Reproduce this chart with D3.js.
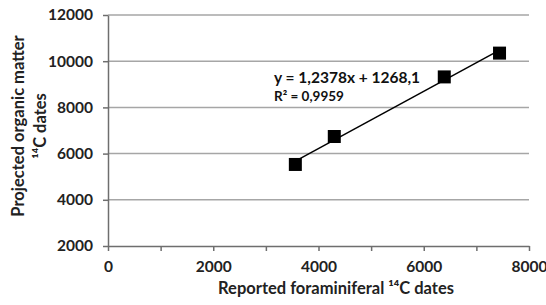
<!DOCTYPE html>
<html>
<head>
<meta charset="utf-8">
<script src="https://cdn.jsdelivr.net/npm/d3@7"></script>
<style>
  body { margin: 0; background: #fff; }
  svg { display: block; font-family: Lato, "Open Sans", sans-serif; }
</style>
</head>
<body>
<svg id="chart" width="546" height="305"></svg>
<script>
// values
const foram_dates = [3560, 4300, 6390, 7440]
const organic_dates = [5530, 6740, 9320, 10350]
const x_ticks = [0, 2000, 4000, 6000, 8000]
const x_minor = [1000, 3000, 5000, 7000]
const y_ticks = [2000, 4000, 6000, 8000, 10000, 12000]
const slope = 1.2378
const intercept = 1268.1

const points = foram_dates.map((d, i) => ({ x: d, y: organic_dates[i] }))

const svg = d3.select('#chart')
const margin = ({ top: 15, right: 17, bottom: 59, left: 108 })
const width = 546, height = 305
const font = 'Lato, "Open Sans", sans-serif'

const x = d3.scaleLinear()
    .domain([0, 8000])
    .range([margin.left, width - margin.right])
const y = d3.scaleLinear()
    .domain([2000, 12000])
    .range([height - margin.bottom, margin.top])

// gridlines
svg.append('g')
    .selectAll('line')
    .data(y_ticks.filter(d => d > 2000))
    .join('line')
    .attr('x1', x(0))
    .attr('x2', x(8000))
    .attr('y1', d => y(d))
    .attr('y2', d => y(d))
    .attr('stroke', '#a6a6a6')
    .attr('stroke-width', 1.5)

const xAxis = g => g
    .attr('transform', `translate(0,${y(2000)})`)
    .call(d3.axisBottom(x).tickValues(x_ticks.concat(x_minor)).tickSize(5).tickSizeOuter(0)
        .tickPadding(10)
        .tickFormat(d => x_minor.includes(d) ? '' : d))
const yAxis = g => g
    .attr('transform', `translate(${x(0)},0)`)
    .call(d3.axisLeft(y).tickValues(y_ticks).tickSize(5).tickSizeOuter(0)
        .tickPadding(10).tickFormat(d => d))

const gx = svg.append('g').call(xAxis)
const gy = svg.append('g').call(yAxis)

svg.selectAll('.domain, .tick line')
    .attr('stroke', '#6e6e6e')
    .attr('stroke-width', 1.5)
svg.selectAll('.tick text')
    .attr('font-size', 15.5)
    .attr('font-weight', 700)
    .attr('fill', '#222')
    .attr('font-family', font)

// trend line
const xs = d3.extent(foram_dates)
const line = d3.line()
    .x(d => x(d))
    .y(d => y(slope * d + intercept))
svg.append('path')
    .datum(xs)
    .attr('fill', 'none')
    .attr('stroke', '#000')
    .attr('stroke-width', 1.5)
    .attr('d', line)

// markers
const s = 13
svg.append('g')
    .selectAll('rect')
    .data(points)
    .join('rect')
    .attr('x', d => x(d.x) - s / 2)
    .attr('y', d => y(d.y) - s / 2)
    .attr('width', s)
    .attr('height', s)
    .attr('fill', '#000')

// equation
svg.append('text')
    .attr('x', 274)
    .attr('y', 83)
    .attr('font-size', 15.5)
    .attr('font-weight', 700)
    .attr('fill', '#111')
    .text('y = 1,2378x + 1268,1')
svg.append('text')
    .attr('x', 274)
    .attr('y', 101)
    .attr('font-size', 13.5)
    .attr('font-weight', 700)
    .attr('fill', '#111')
    .text('R² = 0,9959')

// axis titles
svg.append('text')
    .attr('x', 336)
    .attr('y', 294)
    .attr('text-anchor', 'middle')
    .attr('font-size', 16.5)
    .attr('font-weight', 700)
    .attr('fill', '#222')
    .text('Reported foraminiferal ¹⁴C dates')

const ytitle = svg.append('text')
    .attr('transform', 'translate(0,126) rotate(-90)')
    .attr('text-anchor', 'middle')
    .attr('font-size', 16.5)
    .attr('font-weight', 700)
    .attr('fill', '#222')
ytitle.append('tspan')
    .attr('x', 0)
    .attr('y', 24)
    .text('Projected organic matter')
ytitle.append('tspan')
    .attr('x', 0)
    .attr('y', 46)
    .text('¹⁴C dates')
</script>
</body>
</html>
